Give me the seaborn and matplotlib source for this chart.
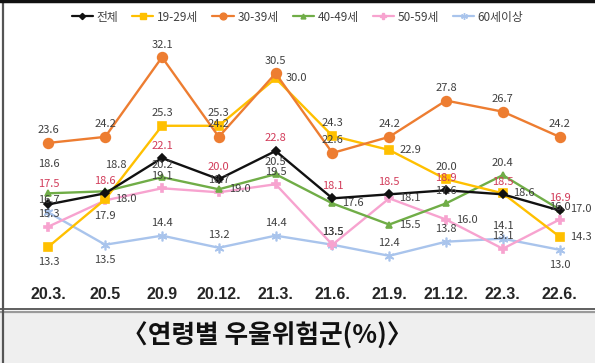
import matplotlib
matplotlib.use('Agg')
from matplotlib import pyplot as plt
import matplotlib.patches as mpatches
import matplotlib.lines as mlines
import numpy as np
import pandas as pd
import seaborn as sns

# data
periods = ['20.3.', '20.5', '20.9', '20.12.', '21.3.', '21.6.', '21.9.', '21.12.', '22.3.', '22.6.']
groups = ['전체', '19-29세', '30-39세', '40-49세', '50-59세', '60세이상']
total = [17.5, 18.6, 22.1, 20.0, 22.8, 18.1, 18.5, 18.9, 18.5, 16.9]
age_20s = [13.3, 18.0, 25.3, 25.3, 30.0, 24.3, 22.9, 20.0, 18.6, 14.3]
age_30s = [23.6, 24.2, 32.1, 24.2, 30.5, 22.6, 24.2, 27.8, 26.7, 24.2]
age_40s = [18.6, 18.8, 20.2, 19.0, 20.5, 17.6, 15.5, 17.6, 20.4, 17.0]
age_50s = [15.3, 17.9, 19.1, 18.7, 19.5, 13.5, 18.1, 16.0, 13.1, 16.0]
age_60p = [16.7, 13.5, 14.4, 13.2, 14.4, 13.5, 12.4, 13.8, 14.1, 13.0]
values = [total, age_20s, age_30s, age_40s, age_50s, age_60p]

# styling
colors = ['#111111', '#FFC000', '#ED7D31', '#70AD47', '#F7A3CF', '#A9C4EC']
markers = ['D', 's', 'o', '^', 'P', (6, 2, 0)]
msizes = [4.5, 6, 7, 5, 6, 7]
zorders = [8, 5, 6, 4, 3, 2]
label_colors = ['#D23C5A', '#404040', '#404040', '#404040', '#404040', '#404040']
# label placement per point: a = above, h/H = higher, A = high above right, b = below, r = right
place = [
    'haaaaaaaaa',
    'braarararr',
    'aaaaaaaaaa',
    'HAararraar',
    'abaaaarraa',
    'abaaaaaaab',
]
offsets = {'a': (0, 9), 'h': (0, 15), 'H': (0, 21), 'A': (8, 19), 'b': (0, -11), 'r': (15, 0)}

rows = []
for g, vals in zip(groups, values):
    for i, v in enumerate(vals):
        rows.append({'idx': i, 'group': g, 'value': v})
df = pd.DataFrame(rows)

sns.set_style('white')
plt.rcParams['font.family'] = ['Noto Sans CJK KR', 'DejaVu Sans']

fig = plt.figure(figsize=(5.95, 3.63), dpi=100)
ax = fig.add_axes([20 / 595, 1 - 280 / 363, 568 / 595, 252 / 363])

for k, g in enumerate(groups):
    sub = df[df['group'] == g]
    sns.lineplot(data=sub, x='idx', y='value', ax=ax, color=colors[k],
                 marker=markers[k], markersize=msizes[k], markeredgecolor=colors[k],
                 markeredgewidth=1.2, linewidth=1.7, zorder=zorders[k], sort=False,
                 legend=False)
    for i, v in enumerate(sub['value']):
        dx, dy = offsets[place[k][i]]
        ax.annotate(f'{v:.1f}', (i, v), xytext=(dx, dy), textcoords='offset points',
                    ha='center', va='center', fontsize=8, color=label_colors[k],
                    zorder=10)

ax.set_xlim(-0.5, len(periods) - 0.5)
ax.set_ylim(10, 35)
ax.set_xticks(range(len(periods)))
ax.set_xticklabels(periods, fontsize=11.5, fontweight='bold',
                   family=['Liberation Sans Narrow', 'Liberation Sans', 'DejaVu Sans'])
ax.tick_params(axis='x', length=0, pad=5)
ax.set_yticks([])
ax.set_xlabel('')
ax.set_ylabel('')
for s in ax.spines.values():
    s.set_visible(False)

handles = [mlines.Line2D([], [], color=colors[k], marker=markers[k], markersize=msizes[k] * 0.7,
                         linewidth=1.6) for k in range(len(groups))]
fig.legend(handles, groups, loc='center', bbox_to_anchor=(0.5, 1 - 17 / 363), ncol=6,
           frameon=False, fontsize=8.5, handlelength=1.8, handletextpad=0.3,
           columnspacing=1.2, labelcolor='#404040')

# bottom caption box and frame
fig.patches.append(mpatches.Rectangle((0, 0), 1, (363 - 311) / 363, transform=fig.transFigure,
                                      facecolor='#EFEFEF', edgecolor='none', zorder=0))
fig.add_artist(mlines.Line2D([0, 1], [1 - 309 / 363] * 2, color='#444444', linewidth=1.2))
fig.add_artist(mlines.Line2D([0, 1], [1 - 311.5 / 363] * 2, color='#9A9A9A', linewidth=1.6))
fig.add_artist(mlines.Line2D([3 / 595] * 2, [0, 1], color='#555555', linewidth=1.6))
fig.add_artist(mlines.Line2D([0, 1], [1 - 1 / 363] * 2, color='#111111', linewidth=2.5))
fig.text(267 / 595, 1 - 336 / 363, '〈연령별 우울위험군(%)〉', ha='center', va='center',
         fontsize=18.5, fontweight='bold', color='#111111')

fig.savefig('out.png', dpi=100)
